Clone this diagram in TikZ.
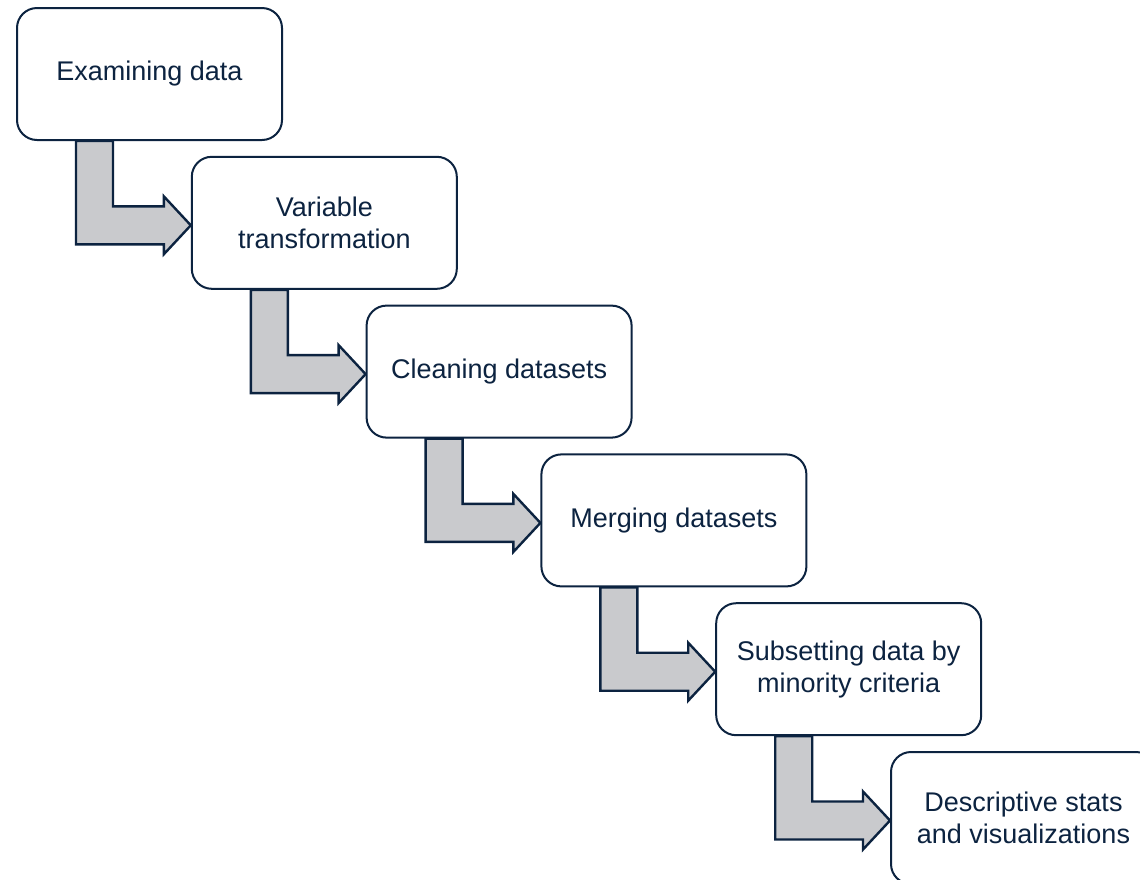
\documentclass[tikz,border=0pt]{standalone}
\usepackage{fontspec}
\setmainfont{Liberation Sans}
\usetikzlibrary{calc,backgrounds}
\definecolor{navy}{HTML}{0C2340}
\definecolor{flowgray}{HTML}{C9CACD}
\tikzset{
  stepbox/.style={draw=navy, line width=2pt, fill=white, rounded corners=20pt,
    minimum width=265pt, minimum height=132pt, inner sep=0pt, align=center,
    text=navy, font=\fontsize{27}{32}\selectfont},
  bentarrow/.style={draw=navy, line width=2.4pt, fill=flowgray, line join=miter}
}
\newcommand{\bent}[2]{%
  \draw[bentarrow] let \p1=(#1.south west), \p2=(#2.west) in
    (\x1+60pt,\y1) -- (\x1+60pt,\y2-21.5pt) -- (\x2-27pt,\y2-21.5pt) --
    (\x2-27pt,\y2-31.5pt) -- (\x2,\y2-2.5pt) -- (\x2-27pt,\y2+26.5pt) --
    (\x2-27pt,\y2+16.5pt) -- (\x1+97pt,\y2+16.5pt) -- (\x1+97pt,\y1) -- cycle;}
\begin{document}
\begin{tikzpicture}
\useasboundingbox (0,0) rectangle (1140pt,-879pt);
\clip (0,0) rectangle (1140pt,-879pt);
\node[stepbox] (b1) at (149.5pt,-74pt) {Examining data};
\node[stepbox] (b2) at (324.3pt,-222.8pt) {Variable\\transformation};
\node[stepbox] (b3) at (499.1pt,-371.6pt) {Cleaning datasets};
\node[stepbox] (b4) at (673.9pt,-520.4pt) {Merging datasets};
\node[stepbox] (b5) at (848.7pt,-669.2pt) {Subsetting data by\\minority criteria};
\node[stepbox] (b6) at (1023.5pt,-818pt) {Descriptive stats\\and visualizations};
\begin{pgfonlayer}{background}
\bent{b1}{b2}
\bent{b2}{b3}
\bent{b3}{b4}
\bent{b4}{b5}
\bent{b5}{b6}
\end{pgfonlayer}
\end{tikzpicture}
\end{document}
